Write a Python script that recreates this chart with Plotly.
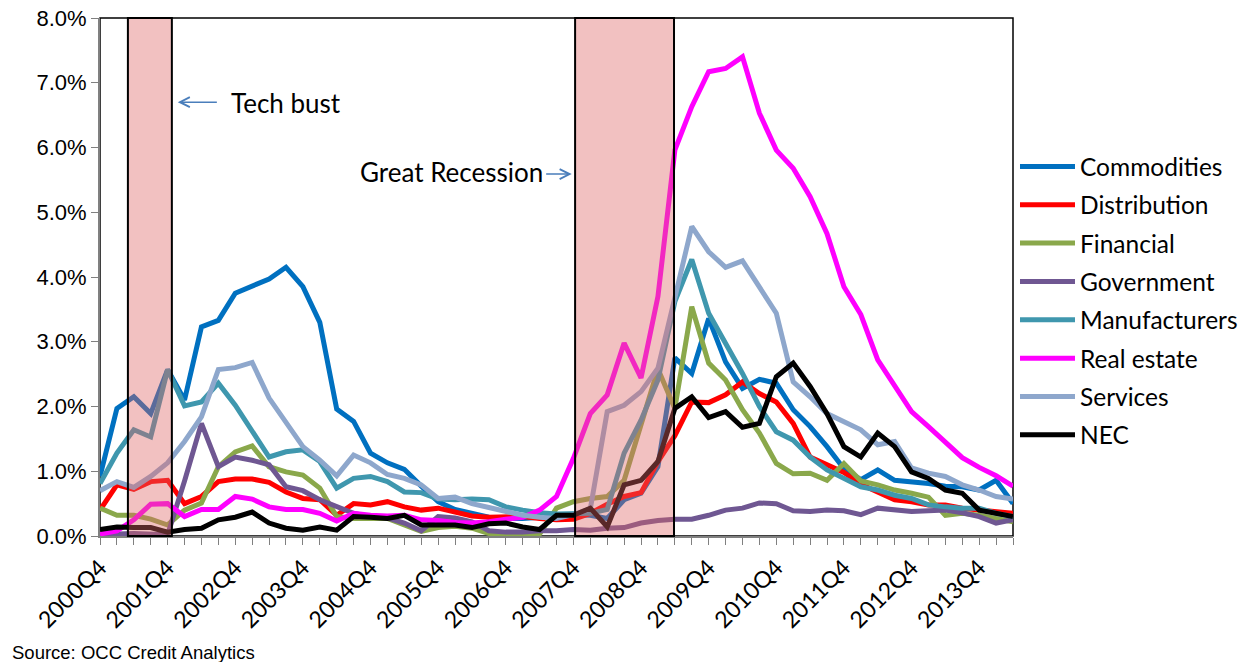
import plotly.graph_objects as go

# Quarterly series, 2000Q4 through 2014Q2 (percent)
quarters = [f"{y}Q{q}" for y in range(2000, 2015) for q in range(1, 5)]
quarters = quarters[quarters.index("2000Q4"): quarters.index("2014Q2") + 1]

commodities = [0.92, 1.97, 2.15, 1.89, 2.57, 2.10, 3.23, 3.33, 3.75, 3.85,
               3.97, 4.15, 3.85, 3.30, 1.96, 1.77, 1.28, 1.13, 1.03, 0.77,
               0.53, 0.41, 0.35, 0.29, 0.27, 0.27, 0.29, 0.31, 0.33, 0.32,
               0.27, 0.56, 0.66, 1.07, 2.75, 2.51, 3.36, 2.69, 2.28, 2.42,
               2.36, 1.95, 1.69, 1.38, 1.04, 0.87, 1.02, 0.86, 0.84, 0.81,
               0.77, 0.76, 0.71, 0.86, 0.50]
distribution = [0.40, 0.79, 0.72, 0.84, 0.86, 0.50, 0.61, 0.84, 0.88, 0.88,
                0.83, 0.68, 0.58, 0.56, 0.32, 0.50, 0.48, 0.53, 0.45, 0.40,
                0.43, 0.36, 0.31, 0.29, 0.30, 0.30, 0.27, 0.25, 0.26, 0.35,
                0.49, 0.61, 0.67, 1.15, 1.55, 2.07, 2.06, 2.18, 2.38, 2.20,
                2.07, 1.74, 1.22, 1.10, 0.98, 0.80, 0.68, 0.56, 0.53, 0.48,
                0.48, 0.43, 0.40, 0.37, 0.35]
financial = [0.43, 0.32, 0.32, 0.26, 0.17, 0.40, 0.51, 1.07, 1.30, 1.39,
             1.07, 0.99, 0.94, 0.74, 0.30, 0.27, 0.27, 0.27, 0.17, 0.07,
             0.13, 0.15, 0.12, 0.04, 0.03, 0.03, 0.03, 0.43, 0.53, 0.58,
             0.61, 0.86, 1.70, 2.58, 1.97, 3.54, 2.67, 2.41, 1.95, 1.59,
             1.12, 0.96, 0.97, 0.86, 1.12, 0.85, 0.79, 0.71, 0.66, 0.60,
             0.32, 0.35, 0.32, 0.27, 0.22]
government = [0.00, 0.03, 0.04, 0.03, 0.02, 0.85, 1.74, 1.07, 1.22, 1.17,
              1.10, 0.76, 0.70, 0.56, 0.45, 0.35, 0.30, 0.28, 0.20, 0.08,
              0.30, 0.28, 0.22, 0.08, 0.06, 0.06, 0.08, 0.08, 0.10, 0.09,
              0.12, 0.13, 0.20, 0.24, 0.26, 0.26, 0.32, 0.40, 0.43, 0.51,
              0.50, 0.39, 0.38, 0.40, 0.39, 0.33, 0.43, 0.40, 0.38, 0.39,
              0.40, 0.36, 0.30, 0.20, 0.25]
manufacturers = [0.81, 1.28, 1.64, 1.53, 2.57, 2.01, 2.07, 2.36, 2.02, 1.61,
                 1.22, 1.30, 1.33, 1.15, 0.74, 0.89, 0.92, 0.84, 0.68, 0.67,
                 0.57, 0.56, 0.57, 0.56, 0.45, 0.40, 0.36, 0.34, 0.35, 0.35,
                 0.41, 1.28, 1.79, 2.41, 3.62, 4.27, 3.44, 2.98, 2.51, 2.00,
                 1.61, 1.48, 1.22, 1.02, 0.90, 0.76, 0.71, 0.63, 0.58, 0.48,
                 0.45, 0.43, 0.43, 0.35, 0.30]
real_estate = [0.03, 0.08, 0.25, 0.49, 0.50, 0.30, 0.41, 0.41, 0.61, 0.57,
               0.45, 0.41, 0.41, 0.35, 0.23, 0.35, 0.32, 0.31, 0.32, 0.25,
               0.24, 0.21, 0.20, 0.22, 0.26, 0.29, 0.40, 0.61, 1.20, 1.89,
               2.18, 2.98, 2.44, 3.70, 5.96, 6.63, 7.17, 7.22, 7.40, 6.53,
               5.96, 5.68, 5.24, 4.67, 3.85, 3.42, 2.72, 2.33, 1.92, 1.69,
               1.46, 1.21, 1.06, 0.93, 0.77]
services = [0.70, 0.84, 0.75, 0.92, 1.13, 1.46, 1.84, 2.57, 2.60, 2.68,
            2.13, 1.74, 1.38, 1.17, 0.93, 1.25, 1.13, 0.95, 0.89, 0.79,
            0.58, 0.60, 0.50, 0.44, 0.38, 0.32, 0.29, 0.27, 0.33, 0.42,
            1.92, 2.02, 2.23, 2.59, 3.68, 4.78, 4.39, 4.15, 4.25, 3.85,
            3.44, 2.38, 2.15, 1.89, 1.77, 1.64, 1.41, 1.46, 1.05, 0.97,
            0.92, 0.79, 0.71, 0.61, 0.57]
nec = [0.10, 0.14, 0.13, 0.13, 0.06, 0.10, 0.12, 0.25, 0.29, 0.37,
       0.20, 0.12, 0.09, 0.14, 0.09, 0.30, 0.29, 0.27, 0.32, 0.17,
       0.17, 0.17, 0.13, 0.19, 0.20, 0.14, 0.10, 0.32, 0.32, 0.43,
       0.14, 0.79, 0.86, 1.15, 1.97, 2.15, 1.83, 1.92, 1.68, 1.74,
       2.46, 2.67, 2.31, 1.89, 1.38, 1.22, 1.59, 1.38, 0.99, 0.89,
       0.71, 0.66, 0.40, 0.35, 0.30]

series_names = ["Commodities", "Distribution", "Financial", "Government",
                "Manufacturers", "Real estate", "Services", "NEC"]
series_values = [commodities, distribution, financial, government,
                 manufacturers, real_estate, services, nec]
series_colors = ["#0070C0", "#FF0000", "#8AA84B", "#6F5792",
                 "#3F97AE", "#FF00FF", "#8EA7CC", "#000000"]

y_ticks = [0, 1, 2, 3, 4, 5, 6, 7, 8]
y_tick_labels = [f"{v:.1f}%" for v in y_ticks]
x_tick_labels = [q if q.endswith("Q4") else "" for q in quarters]

# Recession windows on the quarter index scale
tech_bust = (1.65, 4.25)
great_recession = (28.1, 33.95)

LABEL_FONT = "Lato, 'Open Sans', sans-serif"
AXIS_FONT = "'Liberation Sans', Arial, sans-serif"

fig = go.Figure()
for name, vals, color in zip(series_names, series_values, series_colors):
    fig.add_trace(go.Scatter(
        x=quarters, y=vals, name=name, mode="lines",
        line=dict(color=color, width=5), legendgroup=name,
    ))

shapes = [
    # plot frame
    dict(type="rect", xref="paper", yref="paper", x0=0, x1=1, y0=0, y1=1,
         line=dict(color="black", width=1.5), layer="below"),
]
for x0, x1 in (tech_bust, great_recession):
    shapes.append(dict(type="rect", xref="x", yref="paper", x0=x0, x1=x1,
                       y0=0, y1=1, fillcolor="rgba(222,100,100,0.4)",
                       line=dict(color="black", width=2), layer="above"))

arrow_color = "#4A7EBB"
annotations = [
    dict(x=7.65, y=6.69, xref="x", yref="y", text="Tech bust", showarrow=False,
         xanchor="left", yanchor="middle",
         font=dict(family=LABEL_FONT, size=26, color="black")),
    dict(x=4.6, y=6.70, ax=7.0, ay=6.70, xref="x", yref="y", axref="x", ayref="y",
         text="", showarrow=True, arrowhead=5, arrowsize=1.3, arrowwidth=1.5,
         arrowcolor=arrow_color, standoff=0, startstandoff=0),
    dict(x=26.3, y=5.62, xref="x", yref="y", text="Great Recession", showarrow=False,
         xanchor="right", yanchor="middle",
         font=dict(family=LABEL_FONT, size=26, color="black")),
    dict(x=27.9, y=5.59, ax=26.3, ay=5.59, xref="x", yref="y", axref="x", ayref="y",
         text="", showarrow=True, arrowhead=5, arrowsize=1.3, arrowwidth=1.5,
         arrowcolor=arrow_color, standoff=0, startstandoff=0),
    dict(x=-0.0986, y=-0.224, xref="paper", yref="paper",
         text="Source: OCC Credit Analytics", showarrow=False,
         xanchor="left", yanchor="middle",
         font=dict(family=AXIS_FONT, size=18.5, color="black")),
]

fig.update_layout(
    width=1248, height=662, autosize=False,
    margin=dict(l=100, r=235, t=18, b=126, autoexpand=False),
    plot_bgcolor="white", paper_bgcolor="white",
    showlegend=True,
    legend=dict(xref="container", yref="container", x=0.8133, y=0.7825,
                xanchor="left", yanchor="top",
                font=dict(family=LABEL_FONT, size=24.5, color="black"),
                itemwidth=55, tracegroupgap=3.5, bgcolor="rgba(0,0,0,0)"),
    shapes=shapes, annotations=annotations,
)
fig.update_xaxes(
    type="category", range=[0, len(quarters) - 1],
    tickmode="array", tickvals=quarters, ticktext=x_tick_labels,
    tickangle=-45, ticks="outside", ticklen=7, tickcolor="#808080",
    showline=True, linecolor="#808080", linewidth=2,
    showgrid=False, zeroline=False,
    tickfont=dict(family=LABEL_FONT, size=23, color="black"),
)
fig.update_yaxes(
    range=[0, 8], tickmode="array", tickvals=y_ticks, ticktext=y_tick_labels,
    ticks="outside", ticklen=7, tickcolor="#808080",
    showline=True, linecolor="#808080", linewidth=2,
    showgrid=False, zeroline=False,
    tickfont=dict(family=AXIS_FONT, size=22, color="black"),
)

fig.write_html("out.html")
